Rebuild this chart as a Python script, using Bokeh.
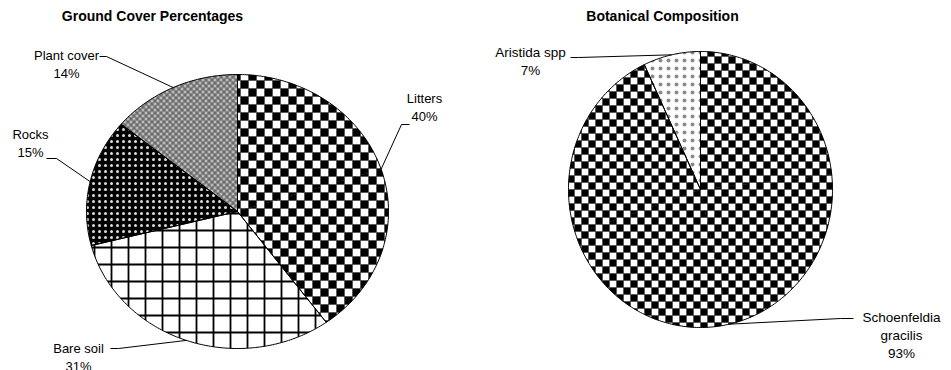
import math
import numpy as np
from bokeh.plotting import figure
from bokeh.models import Range1d
from bokeh.core.properties import value
from bokeh.embed import file_html
from bokeh.resources import INLINE

# ---------------- data ----------------
ground_title = "Ground Cover Percentages"
ground_categories = ["Litters", "Bare soil", "Rocks", "Plant cover"]
ground_values = [40, 31, 15, 14]

botanical_title = "Botanical Composition"
botanical_categories = ["Schoenfeldia\ngracilis", "Aristida spp"]
botanical_values = [93, 7]

# ---------------- styles ----------------
# checker patterns: (cell size, square colour, background colour)
ground_style = [
    dict(checker=(8, "black", "white")),
    dict(fill_color="white", hatch_pattern="cross", hatch_color="black",
         hatch_scale=17, hatch_weight=1.8),
    dict(fill_color="black", hatch_pattern="dot", hatch_color="#dcdcdc",
         hatch_scale=6, hatch_weight=1),
    dict(checker=(3, "#6c6c6c", "#bcbcbc")),
]
bot_style = [
    dict(checker=(7, "black", "white")),
    dict(fill_color="white", hatch_pattern="dot", hatch_color="#8a8a8a",
         hatch_scale=8, hatch_weight=0.5),
]

# ---------------- layout ----------------
W, H = 951, 370
FONT = "Liberation Sans"
ground_geom = dict(cx=237, cy=211, rx=151, ry=137)
bot_geom = dict(cx=700, cy=189, rx=132, ry=138)

ground_label_pos = [(424, 98), (78, 348), (30, 134), (66, 55)]
ground_leader = [((409, 124), (401, 124)), ((110, 348), (118, 348)),
                 ((46, 158), (56, 158)), ((99, 56), (106, 56))]
bot_label_pos = [(901, 317), (530, 52)]
bot_leader = [((853, 318), (840, 318)), ((570, 57), (578, 57))]
LINE_STEP = 18


def arc(cx, cy, rx, ry, a0, a1, per_turn=400):
    n = max(int((a1 - a0) * per_turn), 4)
    t = np.linspace(a0, a1, n + 1) * 2 * np.pi
    return cx + rx * np.sin(t), cy - ry * np.cos(t)


def slice_shapes(values, cx, cy, rx, ry):
    total = float(sum(values))
    fr = np.concatenate([[0.0], np.cumsum(values) / total])
    xs, ys, mids, ranges = [], [], [], []
    for a0, a1 in zip(fr[:-1], fr[1:]):
        x, y = arc(cx, cy, rx, ry, a0, a1)
        xs.append(np.concatenate([[cx], x]))
        ys.append(np.concatenate([[cy], y]))
        tm = (a0 + a1) * np.pi
        mids.append((cx + rx * np.sin(tm), cy - ry * np.cos(tm)))
        ranges.append((a0, a1))
    return xs, ys, mids, ranges


def convex_clip(subject, clipper):
    out = subject
    n = len(clipper)
    for k in range(n):
        if not out:
            break
        ax, ay = clipper[k]
        bx, by = clipper[(k + 1) % n]
        inp, out = out, []
        for i in range(len(inp)):
            cur, prev = inp[i], inp[i - 1]
            sc = (bx - ax) * (cur[1] - ay) - (by - ay) * (cur[0] - ax)
            sp = (bx - ax) * (prev[1] - ay) - (by - ay) * (prev[0] - ax)
            if sc >= 0:
                if sp < 0:
                    t = sp / (sp - sc)
                    out.append((prev[0] + t * (cur[0] - prev[0]),
                                prev[1] + t * (cur[1] - prev[1])))
                out.append(cur)
            elif sp >= 0:
                t = sp / (sp - sc)
                out.append((prev[0] + t * (cur[0] - prev[0]),
                            prev[1] + t * (cur[1] - prev[1])))
    return out


def checker_cells(geom, a0, a1, cell):
    """Checker squares of a pie slice, clipped to the slice outline."""
    cx, cy, rx, ry = geom["cx"], geom["cy"], geom["rx"], geom["ry"]
    k = int(math.ceil((a1 - a0) / 0.25 - 1e-9))
    bounds = np.linspace(a0, a1, k + 1)
    pxs, pys = [], []
    for b0, b1 in zip(bounds[:-1], bounds[1:]):
        x, y = arc(cx, cy, rx, ry, b0, b1, per_turn=180)
        poly = [(cx, cy)] + list(zip(x, y))
        area = sum(poly[i][0] * poly[(i + 1) % len(poly)][1] -
                   poly[(i + 1) % len(poly)][0] * poly[i][1]
                   for i in range(len(poly)))
        if area < 0:
            poly = poly[::-1]
        P = np.array(poly)
        A, B = P, np.roll(P, -1, axis=0)
        i0, i1 = int(np.floor(P[:, 0].min() / cell)), int(np.ceil(P[:, 0].max() / cell))
        j0, j1 = int(np.floor(P[:, 1].min() / cell)), int(np.ceil(P[:, 1].max() / cell))
        I, J = np.meshgrid(np.arange(i0, i1 + 1), np.arange(j0, j1 + 1))
        mask = (I + J) % 2 == 0
        I, J = I[mask], J[mask]
        X0, Y0 = I * cell, J * cell
        CX = np.stack([X0, X0 + cell, X0 + cell, X0], axis=1).astype(float)
        CY = np.stack([Y0, Y0, Y0 + cell, Y0 + cell], axis=1).astype(float)
        side = ((B[:, 0] - A[:, 0])[None, None, :] * (CY[:, :, None] - A[:, 1][None, None, :]) -
                (B[:, 1] - A[:, 1])[None, None, :] * (CX[:, :, None] - A[:, 0][None, None, :]))
        full = (side >= 0).all(axis=(1, 2))
        outside = (side < 0).all(axis=1).any(axis=1)
        for n in range(len(I)):
            if outside[n]:
                continue
            sq = list(zip(CX[n], CY[n]))
            if not full[n]:
                sq = convex_clip(sq, poly)
                if len(sq) < 3:
                    continue
            pxs.append([q[0] for q in sq])
            pys.append([q[1] for q in sq])
    return pxs, pys


p = figure(width=W, height=H, x_range=Range1d(0, W), y_range=Range1d(H, 0),
           output_backend="svg", toolbar_location=None, min_border=0,
           x_axis_location=None, y_axis_location=None)
p.grid.visible = False
p.outline_line_color = None
p.background_fill_color = "white"
p.border_fill_color = "white"


def draw_pie(values, cats, geom, styles, label_pos, leader, title, title_x,
             label_size):
    xs, ys, mids, ranges = slice_shapes(values, **geom)
    for x, y, st, (a0, a1) in zip(xs, ys, styles, ranges):
        if "checker" in st:
            cell, fg, bg = st["checker"]
            p.patch(x, y, fill_color=bg, line_color=None)
            cxs, cys = checker_cells(geom, a0, a1, cell)
            p.patches(cxs, cys, fill_color=fg, line_color=fg, line_width=0.3)
        else:
            p.patch(x, y, line_color=None, **st)
    p.patches(list(xs), list(ys), fill_color=None, line_color="black",
              line_width=1)
    # leader lines
    lx, ly = [], []
    for (s, e), m in zip(leader, mids):
        lx.append([s[0], e[0], m[0]])
        ly.append([s[1], e[1], m[1]])
    p.multi_line(lx, ly, line_color="black", line_width=1)
    # labels
    tx, ty, tt = [], [], []
    total = float(sum(values))
    for c, v, (x0, y0) in zip(cats, values, label_pos):
        lines = c.split("\n") + ["%d%%" % round(100 * v / total)]
        for i, ln in enumerate(lines):
            tx.append(x0)
            ty.append(y0 + i * LINE_STEP)
            tt.append(ln)
    p.text(tx, ty, text=tt, text_align="center", text_baseline="middle",
           text_font=value(FONT), text_font_size=label_size, text_color="black")
    p.text([title_x], [15], text=[title], text_align="center",
           text_baseline="middle", text_font=value(FONT),
           text_font_size="14px", text_font_style="bold", text_color="black")


draw_pie(ground_values, ground_categories, ground_geom, ground_style,
         ground_label_pos, ground_leader, ground_title, 152, "13px")
draw_pie(botanical_values, botanical_categories, bot_geom, bot_style,
         bot_label_pos, bot_leader, botanical_title, 662, "13.5px")

open("out.html", "w").write(file_html(p, INLINE))
